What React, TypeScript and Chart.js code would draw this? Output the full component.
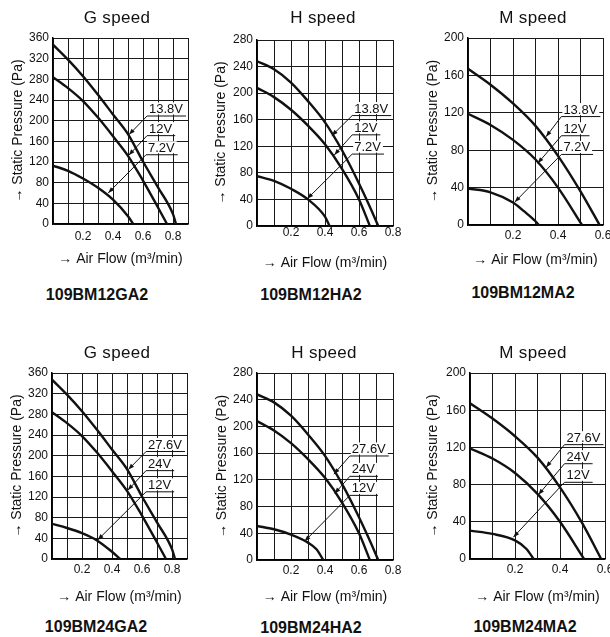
import React, { useEffect, useRef } from 'react';
import { Chart, registerables } from 'chart.js';

Chart.register(...registerables);

const FONT = "'Liberation Sans', Arial, Helvetica, 'Noto Sans CJK JP', sans-serif";

// ---------------- data ----------------
const Y_TITLE = '→ Static Pressure (Pa)';
const X_TITLE = '→ Air Flow (m³/min)';
const VOLTS_12 = ['13.8V', '12V', '7.2V'];
const VOLTS_24 = ['27.6V', '24V', '12V'];

const X_TICKS_G = [0.2, 0.4, 0.6, 0.8];
const X_TICKS_H = [0.2, 0.4, 0.6, 0.8];
const X_TICKS_M = [0.2, 0.4, 0.6];
const Y_STEP = 40;

// G speed
const FLOW_G_HI = [0, 0.1, 0.2, 0.3, 0.4, 0.5, 0.6, 0.7, 0.8, 0.82];
const PRES_G_HI = [347, 318, 286, 250, 212, 174, 121, 71, 19, 0];
const FLOW_G_MID = [0, 0.1, 0.2, 0.3, 0.4, 0.5, 0.6, 0.7, 0.76];
const PRES_G_MID = [284, 263, 238, 206, 170, 132, 84, 32, 0];
const FLOW_G12_LO = [0, 0.1, 0.2, 0.3, 0.4, 0.5, 0.535];
const PRES_G12_LO = [113, 103, 88, 70, 47, 15, 0];
const FLOW_G24_LO = [0, 0.1, 0.2, 0.3, 0.4, 0.455];
const PRES_G24_LO = [68, 60, 50, 36, 14, 0];

// H speed
const FLOW_H_HI = [0, 0.1, 0.2, 0.3, 0.4, 0.5, 0.6, 0.7, 0.713];
const PRES_H_HI = [248, 236, 216, 188, 156, 114, 64, 8, 0];
const FLOW_H_MID = [0, 0.1, 0.2, 0.3, 0.4, 0.5, 0.6, 0.664];
const PRES_H_MID = [208, 194, 175, 151, 123, 86, 40, 0];
const FLOW_H12_LO = [0, 0.1, 0.2, 0.3, 0.4, 0.427];
const PRES_H12_LO = [75, 68, 56, 40, 14, 0];
const FLOW_H24_LO = [0, 0.1, 0.2, 0.3, 0.35, 0.39];
const PRES_H24_LO = [51, 46, 38, 26, 16, 0];

// M speed
const FLOW_M12_HI = [0, 0.1, 0.2, 0.3, 0.4, 0.5, 0.585];
const PRES_M12_HI = [167, 150, 130, 106, 74, 36, 0];
const FLOW_M12_MID = [0, 0.1, 0.2, 0.3, 0.4, 0.507];
const PRES_M12_MID = [119, 107, 91, 70, 40, 0];
const FLOW_M12_LO = [0, 0.1, 0.2, 0.25, 0.3, 0.315];
const PRES_M12_LO = [39, 35, 24, 14.5, 4, 0];
const FLOW_M24_HI = [0, 0.1, 0.2, 0.3, 0.4, 0.5, 0.583];
const PRES_M24_HI = [167.5, 151, 132, 109, 77, 38, 0];
const FLOW_M24_MID = [0, 0.1, 0.2, 0.3, 0.4, 0.507];
const PRES_M24_MID = [119, 108, 92.5, 70, 40, 0];
const FLOW_M24_LO = [0, 0.1, 0.2, 0.25, 0.283];
const PRES_M24_LO = [30.5, 27, 20, 11, 0];

// callouts (data units): knee = left end of label underline, tip = arrow point on curve
const KNEE_G12 = [[0.627, 210], [0.627, 172], [0.62, 135]];
const TIP_G12 = [[0.507, 173], [0.505, 133], [0.368, 60]];
const KNEE_H12 = [[0.56, 167], [0.56, 138], [0.56, 109]];
const TIP_H12 = [[0.44, 136], [0.455, 107], [0.296, 41]];
const KNEE_M12 = [[0.415, 116.5], [0.415, 96], [0.415, 76]];
const TIP_M12 = [[0.347, 94.5], [0.31, 66], [0.208, 24.5]];
const KNEE_G24 = [[0.627, 209], [0.627, 172], [0.627, 131]];
const TIP_G24 = [[0.509, 173], [0.505, 133], [0.305, 37]];
const KNEE_H24 = [[0.546, 156.5], [0.546, 126], [0.546, 97.5]];
const TIP_H24 = [[0.452, 128.5], [0.457, 99.5], [0.28, 28]];
const KNEE_M24 = [[0.42, 123.5], [0.42, 103], [0.42, 83]];
const TIP_M24 = [[0.338, 98.5], [0.304, 69], [0.193, 23.5]];

// ---------------- panels ----------------
type Layout = {
  plot: { l: number; t: number; r: number; b: number };
  yTitleX: number;
  xTitleY: number;
  tickPad: number;
  titleAt: [number, number];
  modelAt: [number, number];
};

type Spec = {
  speed: string;
  model: string;
  xMax: number;
  yMax: number;
  xTicks: number[];
  volts: string[];
  flows: number[][];
  pres: number[][];
  knees: number[][];
  tips: number[][];
  layout: Layout;
};

const PANELS: Spec[] = [
  {
    speed: 'G speed', model: '109BM12GA2', xMax: 0.9, yMax: 360, xTicks: X_TICKS_G, volts: VOLTS_12,
    flows: [FLOW_G_HI, FLOW_G_MID, FLOW_G12_LO], pres: [PRES_G_HI, PRES_G_MID, PRES_G12_LO],
    knees: KNEE_G12, tips: TIP_G12,
    layout: { plot: { l: 53, t: 38, r: 188, b: 224 }, yTitleX: 18, xTitleY: 259, tickPad: 5, titleAt: [117, 17], modelAt: [97, 295] },
  },
  {
    speed: 'H speed', model: '109BM12HA2', xMax: 0.8, yMax: 280, xTicks: X_TICKS_H, volts: VOLTS_12,
    flows: [FLOW_H_HI, FLOW_H_MID, FLOW_H12_LO], pres: [PRES_H_HI, PRES_H_MID, PRES_H12_LO],
    knees: KNEE_H12, tips: TIP_H12,
    layout: { plot: { l: 257, t: 40, r: 393, b: 226 }, yTitleX: 221, xTitleY: 263, tickPad: -1, titleAt: [323, 17], modelAt: [311, 295] },
  },
  {
    speed: 'M speed', model: '109BM12MA2', xMax: 0.6, yMax: 200, xTicks: X_TICKS_M, volts: VOLTS_12,
    flows: [FLOW_M12_HI, FLOW_M12_MID, FLOW_M12_LO], pres: [PRES_M12_HI, PRES_M12_MID, PRES_M12_LO],
    knees: KNEE_M12, tips: TIP_M12,
    layout: { plot: { l: 468, t: 38, r: 603, b: 225 }, yTitleX: 433, xTitleY: 260, tickPad: 3, titleAt: [533, 17], modelAt: [523, 293] },
  },
  {
    speed: 'G speed', model: '109BM24GA2', xMax: 0.9, yMax: 360, xTicks: X_TICKS_G, volts: VOLTS_24,
    flows: [FLOW_G_HI, FLOW_G_MID, FLOW_G24_LO], pres: [PRES_G_HI, PRES_G_MID, PRES_G24_LO],
    knees: KNEE_G24, tips: TIP_G24,
    layout: { plot: { l: 52, t: 373, r: 187, b: 559 }, yTitleX: 17, xTitleY: 597, tickPad: 3.5, titleAt: [117, 352], modelAt: [96, 627] },
  },
  {
    speed: 'H speed', model: '109BM24HA2', xMax: 0.8, yMax: 280, xTicks: X_TICKS_H, volts: VOLTS_24,
    flows: [FLOW_H_HI, FLOW_H_MID, FLOW_H24_LO], pres: [PRES_H_HI, PRES_H_MID, PRES_H24_LO],
    knees: KNEE_H24, tips: TIP_H24,
    layout: { plot: { l: 257, t: 373, r: 393, b: 560 }, yTitleX: 222, xTitleY: 597, tickPad: 3, titleAt: [324, 352], modelAt: [311, 628] },
  },
  {
    speed: 'M speed', model: '109BM24MA2', xMax: 0.6, yMax: 200, xTicks: X_TICKS_M, volts: VOLTS_24,
    flows: [FLOW_M24_HI, FLOW_M24_MID, FLOW_M24_LO], pres: [PRES_M24_HI, PRES_M24_MID, PRES_M24_LO],
    knees: KNEE_M24, tips: TIP_M24,
    layout: { plot: { l: 470, t: 373, r: 605, b: 559 }, yTitleX: 433, xTitleY: 597, tickPad: 3.5, titleAt: [533, 352], modelAt: [525, 627] },
  },
];

const calloutPlugin = {
  id: 'callouts',
  afterDatasetsDraw(chart: any, _args: any, opts: any) {
    const { ctx } = chart;
    const xs = chart.scales.x;
    const ys = chart.scales.y;
    const labels: string[] = opts.labels || [];
    const knees: number[][] = opts.knees || [];
    const tips: number[][] = opts.tips || [];
    ctx.save();
    ctx.font = `13px ${FONT}`;
    ctx.textBaseline = 'alphabetic';
    ctx.textAlign = 'left';
    labels.forEach((lab, i) => {
      const kx = xs.getPixelForValue(knees[i][0]);
      const ky = ys.getPixelForValue(knees[i][1]);
      const tx = xs.getPixelForValue(tips[i][0]);
      const ty = ys.getPixelForValue(tips[i][1]);
      const w = ctx.measureText(lab).width;
      // white backing for text
      ctx.fillStyle = '#fff';
      ctx.fillRect(kx + 1, ky - 13, w + 3, 12);
      ctx.fillStyle = '#111';
      ctx.fillText(lab, kx + 2, ky - 2.5);
      ctx.strokeStyle = '#111';
      ctx.lineWidth = 1;
      ctx.beginPath();
      ctx.moveTo(kx, ky + 0.5);
      ctx.lineTo(kx + w + 5, ky + 0.5);
      ctx.stroke();
      ctx.beginPath();
      ctx.moveTo(kx, ky + 0.5);
      ctx.lineTo(tx, ty);
      ctx.stroke();
      const ang = Math.atan2(ty - ky, tx - kx);
      const len = 6;
      const hw = 2.2;
      const bx = tx - Math.cos(ang) * len;
      const by = ty - Math.sin(ang) * len;
      ctx.beginPath();
      ctx.moveTo(tx, ty);
      ctx.lineTo(bx - Math.sin(ang) * hw, by + Math.cos(ang) * hw);
      ctx.lineTo(bx + Math.sin(ang) * hw, by - Math.cos(ang) * hw);
      ctx.closePath();
      ctx.fill();
    });
    ctx.restore();
  },
};

function Panel({ spec }: { spec: Spec }) {
  const ref = useRef<HTMLCanvasElement>(null);
  const { plot, yTitleX, xTitleY, tickPad } = spec.layout;
  const padTop = 14;
  const padRight = 16;
  const yTitleLH = 14 * 1.2;
  const xTitleLH = 14 * 1.2;
  const cx = Math.round(yTitleX - yTitleLH / 2 - 2);
  const yTitlePad = yTitleX - cx - yTitleLH / 2;
  const yW = plot.l - cx;
  const cy = plot.t - padTop;
  const H = Math.round(xTitleY - plot.b + xTitleLH / 2 + 2);
  const xTitlePad = H - (xTitleY - plot.b) - xTitleLH / 2;
  const cw = plot.r + padRight - cx;
  const ch = plot.b + H - cy;

  useEffect(() => {
    const canvas = ref.current;
    if (!canvas) return;
    const tickFont = { size: 12, family: FONT };
    const titleFontY = { size: 14, family: FONT };
    const titleFontX = { size: 14, family: FONT };
    const chart = new Chart(canvas, {
      type: 'line',
      data: {
        datasets: spec.volts.map((v, si) => ({
          label: v,
          data: spec.flows[si].map((f, i) => ({ x: f, y: spec.pres[si][i] })),
          borderColor: '#111',
          borderWidth: 2.4,
          pointRadius: 0,
          cubicInterpolationMode: 'monotone',
          fill: false,
        })),
      },
      options: {
        responsive: false,
        maintainAspectRatio: false,
        animation: false,
        devicePixelRatio: 1,
        events: [],
        layout: { padding: { top: padTop, right: padRight, left: 0, bottom: 0 } },
        plugins: {
          legend: { display: false },
          tooltip: { enabled: false },
          title: { display: false },
          callouts: { labels: spec.volts, knees: spec.knees, tips: spec.tips },
        } as any,
        scales: {
          x: {
            type: 'linear',
            min: 0,
            max: spec.xMax,
            ticks: {
              stepSize: 0.1,
              autoSkip: false,
              maxRotation: 0,
              minRotation: 0,
              padding: tickPad,
              color: '#111',
              font: tickFont,
              callback: (val: any) => {
                const k = Math.round(Number(val) * 10);
                return spec.xTicks.some((t) => Math.round(t * 10) === k) ? (k / 10).toFixed(1) : '';
              },
            },
            grid: { color: '#1a1a1a', lineWidth: 1, drawTicks: false },
            border: { color: '#000', width: 1.5 },
            title: { display: true, text: X_TITLE, color: '#111', font: titleFontX, padding: { top: 0, bottom: xTitlePad } },
            afterFit: (s: any) => { s.height = H; },
          },
          y: {
            type: 'linear',
            min: 0,
            max: spec.yMax,
            ticks: { stepSize: Y_STEP, autoSkip: false, padding: 4, color: '#111', font: tickFont },
            grid: { color: '#1a1a1a', lineWidth: 1, drawTicks: false },
            border: { color: '#000', width: 1.5 },
            title: { display: true, text: Y_TITLE, color: '#111', font: titleFontY, padding: { top: yTitlePad, bottom: 0 } },
            afterFit: (s: any) => { s.width = yW; },
          },
        },
      } as any,
      plugins: [calloutPlugin],
    });
    return () => chart.destroy();
  }, [spec]);

  return (
    <>
      <canvas
        ref={ref}
        width={cw}
        height={ch}
        style={{ position: 'absolute', left: cx, top: cy, width: cw, height: ch }}
      />
      <div
        style={{
          position: 'absolute', left: spec.layout.titleAt[0], top: spec.layout.titleAt[1],
          transform: 'translate(-50%, -50%)', fontSize: 17, lineHeight: 1, whiteSpace: 'nowrap',
          color: '#111', letterSpacing: 0.3,
        }}
      >
        {spec.speed}
      </div>
      <div
        style={{
          position: 'absolute', left: spec.layout.modelAt[0], top: spec.layout.modelAt[1],
          transform: 'translate(-50%, -50%)', fontSize: 16, fontWeight: 'bold', lineHeight: 1,
          whiteSpace: 'nowrap', color: '#111',
        }}
      >
        {spec.model}
      </div>
    </>
  );
}

export default function App() {
  return (
    <div
      style={{
        position: 'absolute', left: 0, top: 0, width: 610, height: 637, overflow: 'hidden',
        background: '#fff', fontFamily: FONT,
      }}
    >
      {PANELS.map((p, i) => (
        <Panel key={i} spec={p} />
      ))}
    </div>
  );
}
